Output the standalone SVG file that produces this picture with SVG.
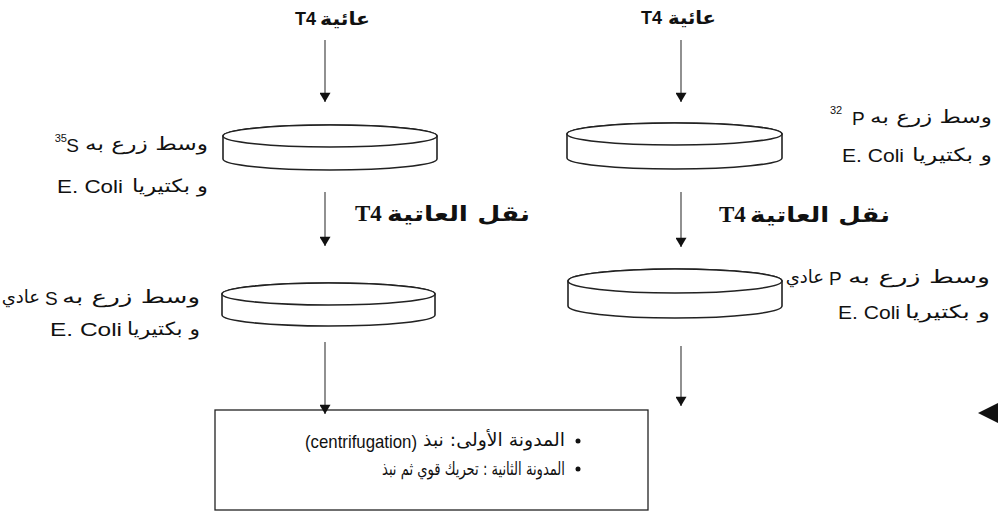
<svg xmlns="http://www.w3.org/2000/svg" width="998" height="512" viewBox="0 0 998 512">
<defs>
<style>
.ar{font-family:"DejaVu Sans","Noto Sans",sans-serif;font-size:18px;fill:#111}
.la{font-family:"Liberation Sans",Arial,sans-serif;font-size:19px;fill:#111}
.sup{font-family:"Liberation Sans",Arial,sans-serif;font-size:11px;fill:#111}
.arb{font-family:"DejaVu Sans",sans-serif;font-size:21px;font-weight:bold;fill:#111}
.t4{font-family:"Liberation Serif","Times New Roman",serif;font-size:23px;font-weight:bold;fill:#111}
.t4s{font-family:"Liberation Sans",Arial,sans-serif;font-size:18px;font-weight:bold;fill:#111}
.dish{fill:#fff;stroke:#222;stroke-width:1.6}
.conn{stroke:#555;stroke-width:1.3;fill:none}
.box{fill:#fff;stroke:#222;stroke-width:1.3}
</style>
<marker id="ah" viewBox="0 0 10 12" refX="10" refY="6" markerWidth="12" markerHeight="11" markerUnits="userSpaceOnUse" orient="auto">
<path d="M0,0 L10,6 L0,12 z" fill="#111"/>
</marker>
</defs>
<rect width="998" height="512" fill="#fff"/>

<g id="label-top-left">
<text class="t4s" x="295" y="25">T4</text>
<text class="ar" x="370" y="25" text-anchor="end" font-weight="bold" textLength="50" lengthAdjust="spacingAndGlyphs">عائية</text>
</g>
<g id="label-top-right">
<text class="t4s" x="641" y="24">T4</text>
<text class="ar" x="716" y="24" text-anchor="end" font-weight="bold" textLength="48" lengthAdjust="spacingAndGlyphs">عائية</text>
</g>

<g id="dish-1-left">
<path class="dish" d="M223,136 L223,159 A107,11 0 0 0 437,159 L437,136 A107,11 0 0 0 223,136 Z"/>
<ellipse class="dish" cx="330" cy="136" rx="107" ry="11"/>
</g>
<g id="dish-1-right">
<path class="dish" d="M567,134 L567,158 A107.5,11 0 0 0 782,158 L782,134 A107.5,11 0 0 0 567,134 Z"/>
<ellipse class="dish" cx="674.5" cy="134" rx="107.5" ry="11"/>
</g>
<g id="dish-2-left">
<path class="dish" d="M222,294 L222,315 A106.5,11 0 0 0 435,315 L435,294 A106.5,11 0 0 0 222,294 Z"/>
<ellipse class="dish" cx="328.5" cy="294" rx="106.5" ry="11"/>
</g>
<g id="dish-2-right">
<path class="dish" d="M568,281 L568,306 A107,12 0 0 0 782,306 L782,281 A107,12 0 0 0 568,281 Z"/>
<ellipse class="dish" cx="675" cy="281" rx="107" ry="12"/>
</g>

<g id="label-medium-35S">
<text class="ar" x="208" y="150" text-anchor="end" textLength="123" lengthAdjust="spacingAndGlyphs">وسط زرع به</text>
<text class="la" x="79" y="152" text-anchor="end">S</text>
<text class="sup" x="67" y="142" text-anchor="end">35</text>
<text class="ar" x="208" y="192" text-anchor="end" textLength="76" lengthAdjust="spacingAndGlyphs">و بكتيريا</text>
<text class="la" x="57" y="193" textLength="66" lengthAdjust="spacingAndGlyphs">E. Coli</text>
</g>
<g id="label-medium-32P">
<text class="ar" x="992" y="123" text-anchor="end" textLength="122" lengthAdjust="spacingAndGlyphs">وسط زرع به</text>
<text class="la" x="852" y="125">P</text>
<text class="sup" x="830" y="114">32</text>
<text class="ar" x="992" y="161" text-anchor="end" textLength="80" lengthAdjust="spacingAndGlyphs">و بكتيريا</text>
<text class="la" x="842" y="162" textLength="62" lengthAdjust="spacingAndGlyphs">E. Coli</text>
</g>
<g id="label-medium-S">
<text class="ar" x="200" y="303" text-anchor="end" textLength="138" lengthAdjust="spacingAndGlyphs">وسط زرع به</text>
<text class="la" x="45" y="305">S</text>
<text class="ar" x="40" y="303" text-anchor="end" font-size="16">عادي</text>
<text class="ar" x="200" y="335" text-anchor="end" textLength="73" lengthAdjust="spacingAndGlyphs">و بكتيريا</text>
<text class="la" x="50" y="336" textLength="72" lengthAdjust="spacingAndGlyphs">E. Coli</text>
</g>
<g id="label-medium-P">
<text class="ar" x="990" y="283" text-anchor="end" textLength="142" lengthAdjust="spacingAndGlyphs">وسط زرع به</text>
<text class="la" x="829" y="285">P</text>
<text class="ar" x="824" y="283" text-anchor="end" font-size="15">عادي</text>
<text class="ar" x="990" y="318" text-anchor="end" textLength="85" lengthAdjust="spacingAndGlyphs">و بكتيريا</text>
<text class="la" x="838" y="319" textLength="62" lengthAdjust="spacingAndGlyphs">E. Coli</text>
</g>

<g id="label-transfer-left">
<text class="t4" x="355" y="221">T4</text>
<text class="arb" x="530" y="221" text-anchor="end" textLength="143" lengthAdjust="spacingAndGlyphs">نقل العاتية</text>
</g>
<g id="label-transfer-right">
<text class="t4" x="719" y="222">T4</text>
<text class="arb" x="890" y="222" text-anchor="end" textLength="140" lengthAdjust="spacingAndGlyphs">نقل العاتية</text>
</g>

<g id="result-box">
<rect class="box" x="215" y="410" width="433" height="100"/>
<circle cx="578" cy="441" r="2.5" fill="#111"/>
<circle cx="578" cy="469" r="2.5" fill="#111"/>
<text class="ar" x="565" y="446" text-anchor="end" font-size="15" textLength="142" lengthAdjust="spacingAndGlyphs">المدونة الأولى: نبذ</text>
<text class="la" x="305" y="448" font-size="17" textLength="112" lengthAdjust="spacingAndGlyphs">(centrifugation)</text>
<text class="ar" x="565" y="475" text-anchor="end" font-size="15" textLength="183" lengthAdjust="spacingAndGlyphs">المدونة الثانية : تحريك قوي ثم نبذ</text>
</g>

<g id="pointer">
<path d="M978,413 L998,403 L998,423 Z" fill="#111"/>
</g>

<g id="connectors">
<line class="conn" x1="325" y1="40" x2="325" y2="102" marker-end="url(#ah)"/>
<line class="conn" x1="681" y1="40" x2="681" y2="102" marker-end="url(#ah)"/>
<line class="conn" x1="325" y1="192" x2="325" y2="246" marker-end="url(#ah)"/>
<line class="conn" x1="681" y1="192" x2="681" y2="247" marker-end="url(#ah)"/>
<line class="conn" x1="325" y1="342" x2="325" y2="414" marker-end="url(#ah)"/>
<line class="conn" x1="681" y1="346" x2="681" y2="406" marker-end="url(#ah)"/>
</g>
</svg>
